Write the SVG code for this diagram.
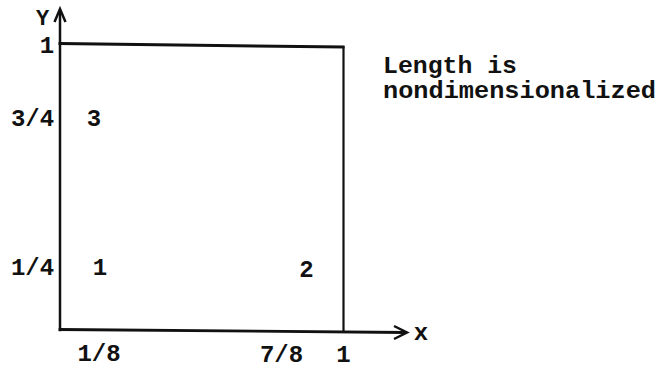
<svg xmlns="http://www.w3.org/2000/svg" width="661" height="369" viewBox="0 0 661 369">
<style>
  .t{font-family:"Liberation Mono","DejaVu Sans Mono",monospace;font-size:24px;font-weight:bold;fill:#111;text-anchor:middle}
  .n{font-family:"Liberation Mono","DejaVu Sans Mono",monospace;font-size:24px;font-weight:bold;fill:#111}
  .ln{stroke:#111;fill:none;stroke-linecap:square}
  .ah{stroke:#111;stroke-width:2.5;fill:none;stroke-linejoin:miter}
</style>
<rect width="661" height="369" fill="#fff"/>
<g id="connectors">
  <line class="ln" x1="60" y1="330" x2="60" y2="11" stroke-width="2.5"/>
  <path class="ah" d="M54.5,22 L60,9 L65.5,22"/>
  <line class="ln" x1="60" y1="43.5" x2="343" y2="47" stroke-width="3"/>
  <line class="ln" x1="343.5" y1="47" x2="343.5" y2="332" stroke-width="2.2"/>
  <line class="ln" x1="60" y1="329.5" x2="404" y2="332.5" stroke-width="2.8"/>
  <path class="ah" d="M394,326 L407,332.5 L394,339"/>
</g>
<g id="axis-labels">
  <text class="t" x="42.5" y="25" style="font-size:22px">Y</text>
  <text class="t" x="421" y="340">x</text>
  <text class="t" x="47" y="53">1</text>
  <text class="t" x="32.5" y="126">3/4</text>
  <text class="t" x="32.5" y="275">1/4</text>
  <text class="t" x="99" y="361">1/8</text>
  <text class="t" x="281.5" y="362">7/8</text>
  <text class="t" x="343.5" y="362">1</text>
</g>
<g id="node-1"><text class="t" x="100" y="275">1</text></g>
<g id="node-2"><text class="t" x="306.5" y="277">2</text></g>
<g id="node-3"><text class="t" x="94" y="126">3</text></g>
<g id="note">
  <text class="n" x="383" y="73" textLength="134" lengthAdjust="spacingAndGlyphs">Length is</text>
  <text class="n" x="383" y="98" textLength="273" lengthAdjust="spacingAndGlyphs">nondimensionalized</text>
</g>
</svg>
